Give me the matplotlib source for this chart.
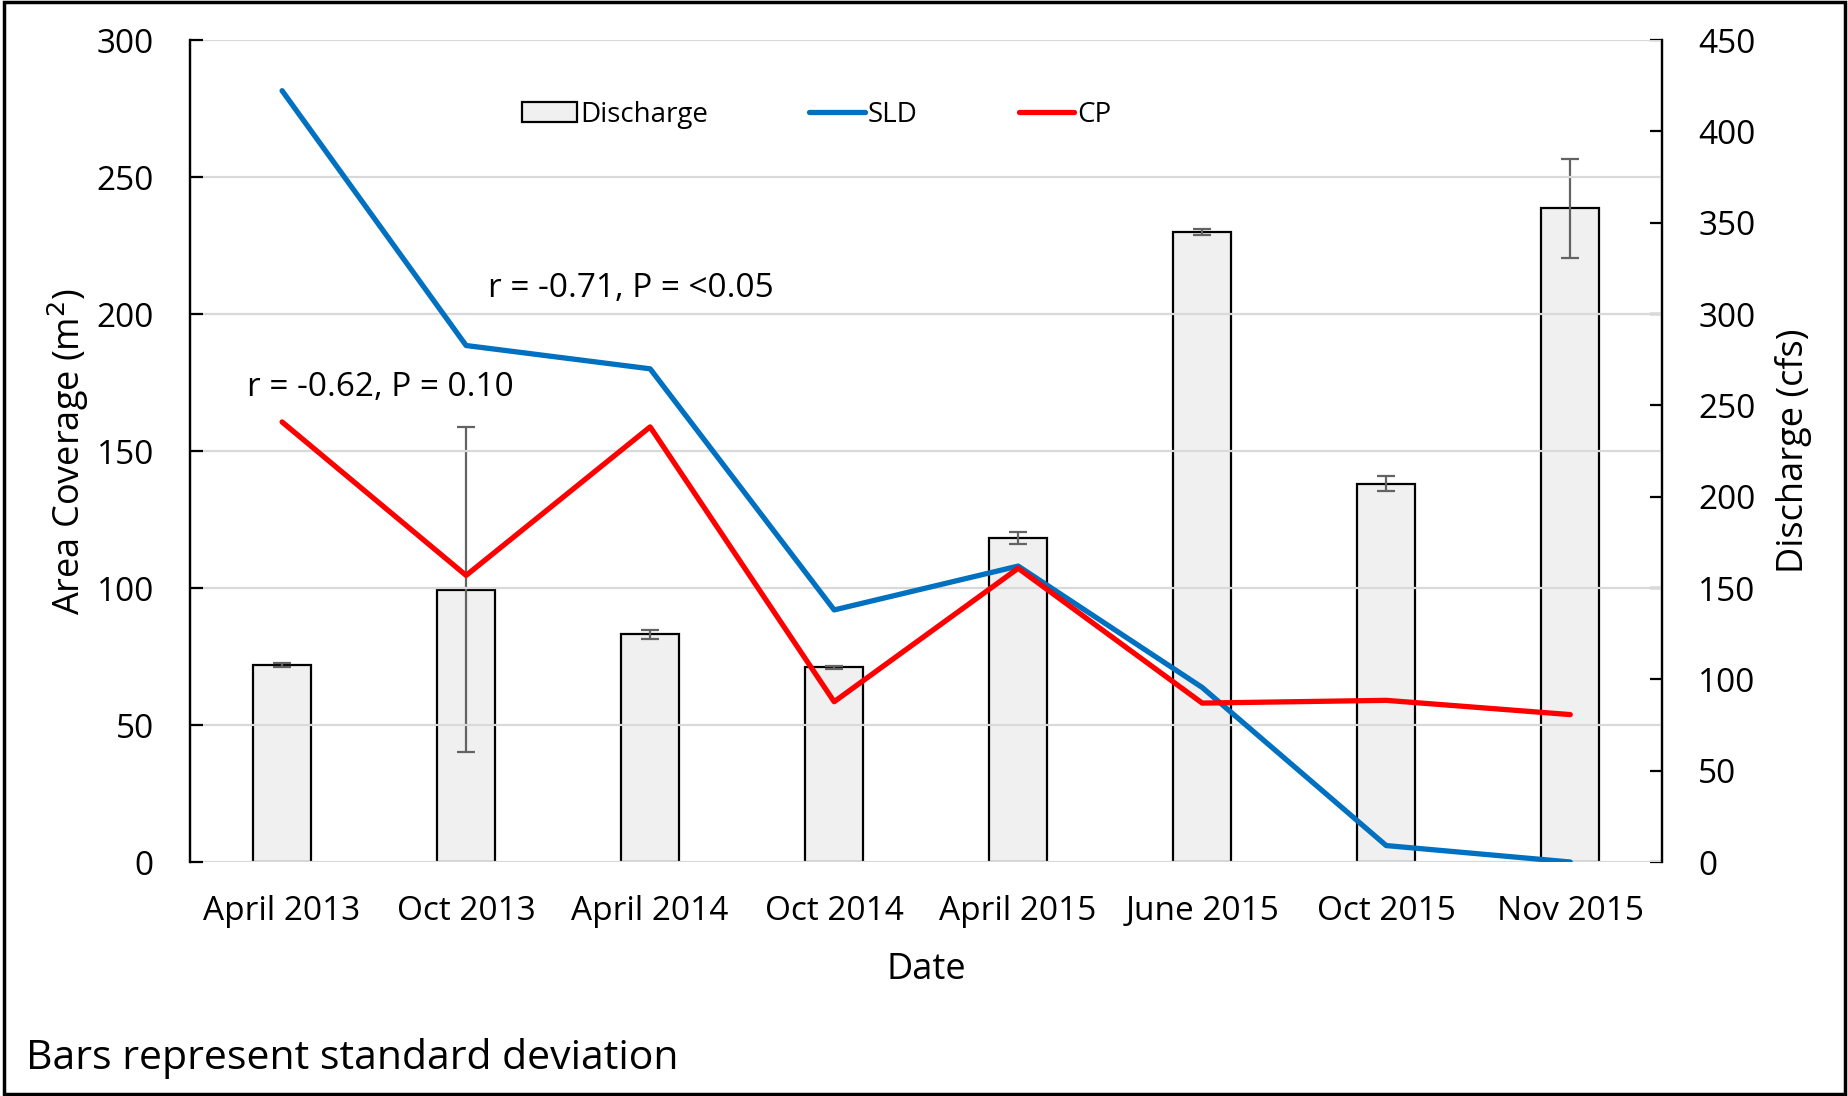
#!/usr/bin/env python3
'''
Area coverage of SLD and CP against discharge, per survey date.
'''

import numpy
import matplotlib
matplotlib.use("Agg")
import matplotlib.pyplot as plt
from matplotlib.patches import Rectangle

dates = ["April 2013", "Oct 2013", "April 2014", "Oct 2014",
         "April 2015", "June 2015", "Oct 2015", "Nov 2015"]
discharge = [107.8, 149.1, 124.6, 106.5, 177.5, 344.8, 207.2, 357.8]
discharge_sd = [1.0, 89.0, 2.6, 1.0, 3.2, 1.8, 4.1, 27.0]
sld = [281.5, 188.5, 180.0, 92.0, 108.0, 63.7, 6.0, 0.0]
cp = [160.6, 104.6, 158.8, 58.5, 107.2, 58.0, 59.0, 53.8]

plt.rcParams['font.family'] = ['Open Sans', 'DejaVu Sans']
FS = 24

fig = plt.figure(figsize=(18.49, 10.96), dpi=100)
ax = fig.add_axes([0.1028, 0.2135, 0.899 - 0.1028, 0.9635 - 0.2135])
ax2 = ax.twinx()
# bars go behind the lines
ax.set_zorder(ax2.get_zorder() + 1)
ax.patch.set_visible(False)

x = numpy.arange(len(dates))
ax2.bar(x, discharge, width=0.315, color="#f0f0f0", edgecolor="black",
        linewidth=1.6, label="Discharge")
ax2.errorbar(x, discharge, yerr=discharge_sd, fmt="none", ecolor="#636363",
             elinewidth=1.6, capsize=6.5, capthick=1.6)

ax.plot(x, sld, color="#0070c0", lw=3.8, label="SLD", solid_capstyle="round")
ax.plot(x, cp, color="#ff0000", lw=3.8, label="CP", solid_capstyle="round")

ax.set_xlim(-0.5, len(dates) - 0.5)
ax.set_ylim(0, 300)
ax2.set_ylim(0, 450)
ax.set_yticks(numpy.arange(0, 301, 50))
ax2.set_yticks(numpy.arange(0, 451, 50))
ax.set_xticks(x)
ax.set_xticklabels(dates)

ax.yaxis.grid(True, color="#d9d9d9", lw=1.6)
ax.set_axisbelow(True)
for a in (ax, ax2):
    a.spines["top"].set_visible(False)
    a.spines["bottom"].set_visible(False)
    a.spines["left"].set_linewidth(1.6)
    a.spines["right"].set_linewidth(1.6)
ax.tick_params(axis="y", direction="in", length=9, width=1.6, labelsize=FS, pad=26)
ax2.tick_params(axis="y", direction="in", length=9, width=1.6, labelsize=FS, pad=26)
ax.tick_params(axis="x", length=0, labelsize=FS, pad=24)

ax.set_ylabel("Area Coverage (m$^2$)", fontsize=26, labelpad=4)
ax2.set_ylabel("Discharge (cfs)", fontsize=26, labelpad=14)
ax.set_xlabel("Date", fontsize=26, labelpad=17)

ax.text(1.12, 209.3, "r = -0.71, P = <0.05", fontsize=24, va="center")
ax.text(-0.19, 173.3, "r = -0.62, P = 0.10", fontsize=24, va="center")

h1, l1 = ax2.get_legend_handles_labels()
h2, l2 = ax.get_legend_handles_labels()
ax.legend(h1[:1] + h2, l1[:1] + l2, loc="center", ncol=3,
          bbox_to_anchor=(0.4255, 0.909), frameon=False, fontsize=20,
          handlelength=2.0, handletextpad=0.1, columnspacing=3.65)

fig.text(0.014, 0.034, "Bars represent standard deviation", fontsize=29.5,
         va="center")
fig.patches.append(Rectangle((0.002, 0.002), 0.996, 0.996, transform=fig.transFigure,
                             fill=False, edgecolor="black", lw=2.5))

fig.savefig("out.png", dpi=100)
